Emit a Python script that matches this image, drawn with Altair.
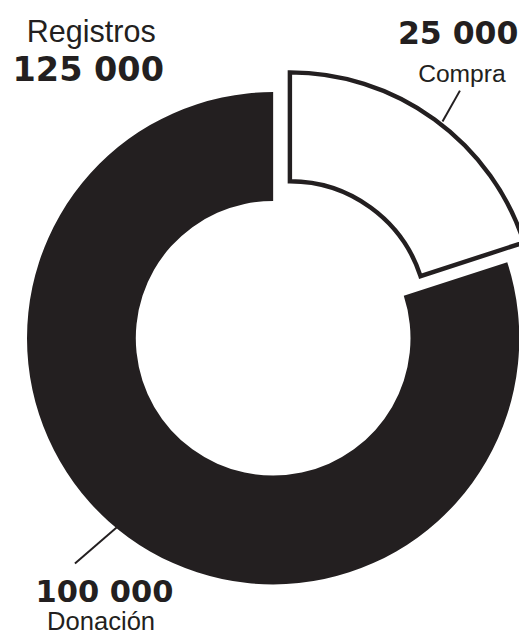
import math
import altair as alt
import pandas as pd

# ---- data ----
categorias = ["Compra", "Donación"]
valores = [25000, 100000]
titulo = "Registros"

def fmt(v):
    return f"{v:,}".replace(",", " ")

total = sum(valores)
df = pd.DataFrame({
    "categoria": categorias,
    "valor": valores,
    "etiqueta": [fmt(v) for v in valores],
})
tot_df = pd.DataFrame({"titulo": [titulo], "total": [fmt(total)]})

INK = "#231f20"
R_OUT, R_IN = 250, 139.5
CX, CY = 269.3, 330.5          # centre of main ring (plot coords)
DX, DY = 17, -20               # explode offset of "Compra"

base = alt.Chart(df).transform_window(
    fin="sum(valor)", frame=[None, 0]
).transform_calculate(inicio="datum.fin - datum.valor")

theta_scale = alt.Scale(domain=[0, total], range=[0, 2 * math.pi])

donacion = base.transform_filter(alt.datum.categoria == "Donación").mark_arc(
    outerRadius=R_OUT, innerRadius=R_IN, fill=INK, clip=True
).encode(
    theta=alt.Theta("inicio:Q", scale=theta_scale),
    theta2="fin:Q",
    x=alt.value(CX), y=alt.value(CY),
)

compra = base.transform_filter(alt.datum.categoria == "Compra").mark_arc(
    outerRadius=R_OUT, innerRadius=R_IN, fill="white", stroke=INK,
    strokeWidth=4.5, clip=True
).encode(
    theta=alt.Theta("inicio:Q", scale=theta_scale),
    theta2="fin:Q",
    x=alt.value(CX + DX), y=alt.value(CY + DY),
)

NUM_FONT = "DejaVu Sans"
LAB_FONT = "Liberation Sans"

t_title = alt.Chart(tot_df).mark_text(
    font=LAB_FONT, fontSize=31, color=INK, align="center", baseline="alphabetic"
).encode(text="titulo:N", x=alt.value(84.5), y=alt.value(29.3))

t_total = alt.Chart(tot_df).mark_text(
    font=NUM_FONT, fontSize=34, fontWeight="bold", color=INK, align="center",
    baseline="alphabetic"
).encode(text="total:N", x=alt.value(81.5), y=alt.value(69.3))

c_num = alt.Chart(df).transform_filter(alt.datum.categoria == "Compra").mark_text(
    font=NUM_FONT, fontSize=32, fontWeight="bold", color=INK, align="left",
    baseline="alphabetic"
).encode(text="etiqueta:N", x=alt.value(396), y=alt.value(32))

c_lab = alt.Chart(df).transform_filter(alt.datum.categoria == "Compra").mark_text(
    font=LAB_FONT, fontSize=25, color=INK, align="center", baseline="alphabetic"
).encode(text="categoria:N", x=alt.value(461), y=alt.value(70))

d_num = alt.Chart(df).transform_filter(alt.datum.categoria == "Donación").mark_text(
    font=NUM_FONT, fontSize=31, fontWeight="bold", color=INK, align="center",
    baseline="alphabetic"
).encode(text="etiqueta:N", x=alt.value(98), y=alt.value(598))

d_lab = alt.Chart(df).transform_filter(alt.datum.categoria == "Donación").mark_text(
    font=LAB_FONT, fontSize=26, color=INK, align="center", baseline="alphabetic"
).encode(text="categoria:N", x=alt.value(94.5), y=alt.value(627))

c_line = alt.Chart(tot_df).mark_rule(color=INK, strokeWidth=2).encode(
    x=alt.value(459), y=alt.value(79), x2=alt.value(441.3), y2=alt.value(110.3)
)
d_line = alt.Chart(tot_df).mark_rule(color=INK, strokeWidth=2).encode(
    x=alt.value(110.3), y=alt.value(522.7), x2=alt.value(68), y2=alt.value(559.3)
)

chart = alt.layer(
    donacion, compra, c_line, d_line, t_title, t_total, c_num, c_lab, d_num, d_lab
).properties(
    width=519, height=628, autosize=alt.AutoSizeParams(type="none"), padding=0
).configure_view(stroke=None)

chart.save("out.html", embed_options={"renderer": "svg", "actions": False})
